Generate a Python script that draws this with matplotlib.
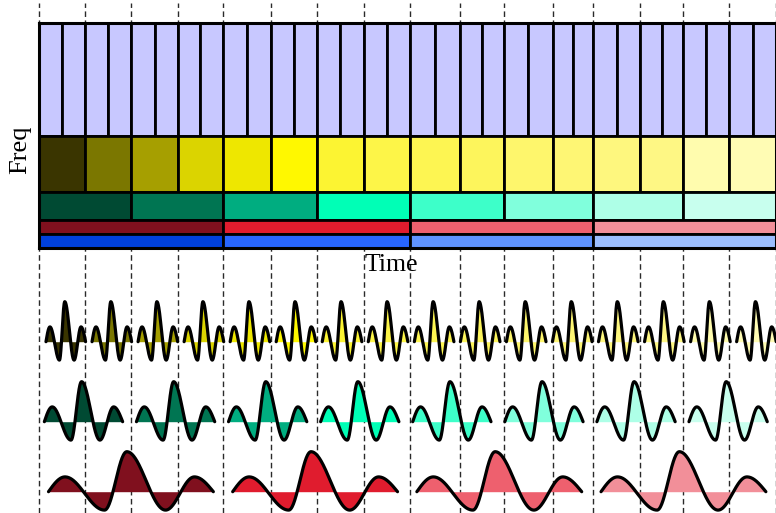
import numpy as np
import matplotlib
matplotlib.use("Agg")
import matplotlib.pyplot as plt
from matplotlib.patches import Rectangle
from matplotlib.lines import Line2D
import matplotlib.transforms as mtransforms

# ---------------- data ----------------
# time boundaries of the 16 level-2 cells
time_edges = [0, 1.0, 1.99, 3.02, 3.98, 5.04, 6.03, 7.05, 8.05,
              9.14, 10.09, 11.15, 12.03, 13.05, 13.99, 14.99, 16]
# frequency bands (low, high) of each row
band_lavender = (8, 16)
band_yellow = (4, 8)
band_green = (2, 4)
band_red = (1, 2)
band_blue = (0, 1)

lavender_color = "#C8C8FF"
yellow_colors = ["#3A3500", "#7B7700", "#A69F00", "#DBD400", "#EEE700", "#FFF800",
                 "#FCF432", "#FDF548", "#FDF552", "#FDF55C", "#FEF66C", "#FEF674",
                 "#FEF77E", "#FEF784", "#FFFCAE", "#FFFCB4"]
green_colors = ["#004A33", "#007552", "#00AD80", "#00FFB6", "#3DFFC9",
                "#80FFDC", "#AEFFE7", "#C8FFEE"]
red_colors = ["#80101E", "#E01C2E", "#EE606E", "#F28F99"]
blue_colors = ["#0040DD", "#2866FF", "#5F93FF", "#9CBEFF"]

# wavelet outline: extrema (relative position, amplitude)
wave_u = [0.0, 0.10, 0.34, 0.475, 0.71, 0.885, 1.0]
wave_v = [0.0, 0.37, -0.46, 1.0, -0.46, 0.37, 0.0]

# ---------------- figure ----------------
W, H = 776, 513
fig = plt.figure(figsize=(W / 100, H / 100), dpi=100)
serif = ["Liberation Serif", "DejaVu Serif"]

x0 = 39.3 / W
top_px, bot_px = 23.3, 248.3
ax = fig.add_axes([x0, 1 - bot_px / H, 1.0 - x0, (bot_px - top_px) / H])
ax.set_xlim(0, 16)
ax.set_ylim(0, 16)
ax.set_xticks([])
ax.set_yticks([])
for s in ax.spines.values():
    s.set_linewidth(2.2)
    s.set_zorder(5)

edges = np.array(time_edges, dtype=float)
mids = (edges[:-1] + edges[1:]) / 2
lav_edges = np.sort(np.concatenate([edges, mids]))


def draw_row(e, band, colors):
    for i in range(len(e) - 1):
        c = colors[i] if isinstance(colors, list) else colors
        ax.add_patch(Rectangle((e[i], band[0]), e[i + 1] - e[i], band[1] - band[0],
                               facecolor=c, edgecolor="black", linewidth=2.0))


draw_row(lav_edges, band_lavender, lavender_color)
draw_row(edges, band_yellow, yellow_colors)
draw_row(edges[::2], band_green, green_colors)
draw_row(edges[::4], band_red, red_colors)
draw_row(edges[::4], band_blue, blue_colors)

# dashed guide lines across the whole figure
trans = mtransforms.blended_transform_factory(ax.transData, fig.transFigure)
for t in time_edges:
    fig.add_artist(Line2D([t, t], [0, 0.995], transform=trans, color="#2a2a2a",
                          linewidth=1.0, linestyle=(0, (4, 2.5)), zorder=-1))

# ---------------- wavelets ----------------
base_px = 341.7
low_top_px = 280
ax2 = fig.add_axes([x0, 0, 1.0 - x0, (H - low_top_px) / H])
ax2.set_xlim(0, 16)
ax2.set_ylim(-(H - base_px) / 40, (base_px - low_top_px) / 40)
ax2.axis("off")
ax2.patch.set_visible(False)


def shape(u):
    out = np.zeros_like(u)
    n = len(wave_u)
    for k in range(n - 1):
        a, b = wave_u[k], wave_u[k + 1]
        va, vb = wave_v[k], wave_v[k + 1]
        m = (u >= a) & (u <= b)
        s = (u[m] - a) / (b - a)
        if k == 0:
            out[m] = vb * np.sin(np.pi / 2 * s)
        elif k == n - 2:
            out[m] = va * np.cos(np.pi / 2 * s)
        else:
            out[m] = va + (vb - va) * (1 - np.cos(np.pi * s)) / 2
    return out


u = np.linspace(0, 1, 400)
f = shape(u)


def draw_waves(colors, cell, start, length, base):
    for i, c in enumerate(colors):
        x = i * cell + start + length * u
        y = base + f
        ax2.fill_between(x, base, y, color=c, linewidth=0)
        ax2.plot(x, y, color="black", linewidth=2.3, solid_capstyle="round")


draw_waves(yellow_colors, 1.0, 0.145, 0.86, 0.0)
draw_waves(green_colors, 2.0, 0.11, 1.70, -2.0)
draw_waves(red_colors, 4.0, 0.20, 3.58, -3.75)

# ---------------- labels ----------------
fig.text(391.5 / W, 1 - 265 / H, "Time", ha="center", va="center",
         fontsize=18.5, family=serif)
fig.text(20 / W, 1 - 150 / H, "Freq", ha="center", va="center", rotation=90,
         fontsize=19, family=serif)

fig.savefig("out.png", dpi=100)
